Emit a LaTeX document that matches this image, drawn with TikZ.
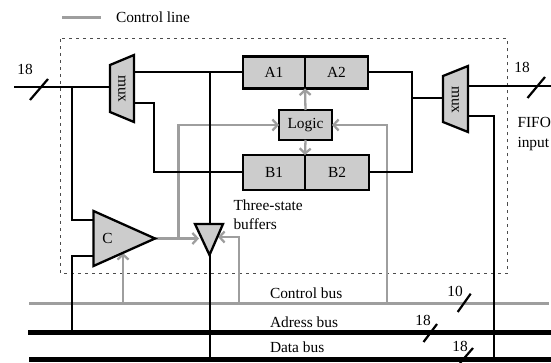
\documentclass[tikz,border=0pt]{standalone}
\usepackage{fontspec}
\setmainfont{Liberation Serif}
\usetikzlibrary{arrows.meta}
\definecolor{ctrlgray}{gray}{0.62}
\definecolor{boxgray}{gray}{0.8}
\tikzset{
	sig/.style={line width=2pt, black},
	ctrl/.style={line width=2.3pt, ctrlgray},
	ctrlarrow/.style={ctrl, -{Straight Barb[length=5pt,width=11pt,line width=2.3pt]}},
	bus/.style={line width=5pt, black},
	slash/.style={line width=2.2pt, black},
	part/.style={draw, line width=2.3pt, fill=boxgray, inner sep=0pt, outer sep=0pt, font=\fontsize{15.4}{18}\selectfont},
	shape2/.style={draw, line width=2.3pt, fill=boxgray, line join=miter},
	lbl/.style={inner sep=0pt, outer sep=0pt, font=\fontsize{15.4}{18}\selectfont},
}
\begin{document}
\begin{tikzpicture}[x=1pt, y=-1pt]
	\useasboundingbox (0, 0) rectangle (551, 363);
	%%%%% legend %%%%%
	\coordinate (legA) at (62, 17.5);
	\coordinate (legB) at (101, 17.5);
	\draw[ctrl] (legA) -- (legB);
	\node[lbl, anchor=west] (legtext) at (116, 17) {Control line};

	%%%%% frame %%%%%
	\draw[line width=1pt, black!70, dash pattern=on 3pt off 4pt] (60.5, 39) rectangle (507, 273.5);

	%%%%% blocks %%%%%
	\node[part, minimum width=62pt, minimum height=32pt] (A1) at (274, 72.5) {A1};
	\node[part, minimum width=63pt, minimum height=32pt] (A2) at (336.5, 72.5) {A2};
	\node[part, minimum width=62pt, minimum height=35pt] (B1) at (274, 172.5) {B1};
	\node[part, minimum width=64pt, minimum height=35pt] (B2) at (337, 172.5) {B2};
	\node[part, minimum width=53pt, minimum height=30pt] (logic) at (305.5, 125) {Logic};

	%%%%% fixed points %%%%%
	\coordinate (inL) at (14, 87.5);
	\coordinate (brL) at (72, 87.5);
	\coordinate (muxLin) at (110, 87.5);
	\coordinate (muxLout) at (134, 72.5);
	\coordinate (muxLlow) at (134, 103);
	\coordinate (bendL) at (153.5, 103);
	\coordinate (bendLb) at (153.5, 172.5);
	\coordinate (cUp) at (72, 220);
	\coordinate (cUpIn) at (93.5, 220);
	\coordinate (cLow) at (72, 256);
	\coordinate (cLowIn) at (93.5, 256);
	\coordinate (cOut) at (155, 238.5);
	\coordinate (busAtC) at (72, 332);
	\coordinate (dataTop) at (209.5, 72.5);
	\coordinate (dataBot) at (209.5, 359);
	\coordinate (bufTip) at (209.5, 255);
	\coordinate (bendAr) at (411.5, 72.5);
	\coordinate (bendBr) at (411.5, 172.5);
	\coordinate (muxRstub) at (411.5, 98);
	\coordinate (muxRin) at (443, 98);
	\coordinate (muxRout) at (468, 86);
	\coordinate (outR) at (551, 86);
	\coordinate (muxRlow) at (468, 116.5);
	\coordinate (bendR) at (493.5, 116.5);
	\coordinate (bendRb) at (493.5, 359);

	%%%%% control lines %%%%%
	\draw[ctrl] (29, 303.5) coordinate (ctrlL) -- (549, 303.5) coordinate (ctrlR);
	\coordinate (ctrlUpC) at (123, 303.5);
	\coordinate (ctrlUpBuf) at (238.7, 303.5);
	\coordinate (ctrlUpLogic) at (387, 303.5);
	\coordinate (cTap) at (178.5, 238.5);
	\draw[ctrlarrow] (cOut) -- (199, 238.5) coordinate (bufL);
	\draw[ctrlarrow] (cTap) |- (logic.west);
	\draw[ctrlarrow] (ctrlUpLogic) |- (logic.east);
	\draw[ctrlarrow] (ctrlUpC) -- (123, 253) coordinate (cCtl);
	\draw[ctrlarrow] (ctrlUpBuf) |- (218, 237) coordinate (bufR);
	\draw[ctrlarrow] (logic.north) -- (A1.south east);
	\draw[ctrlarrow] (logic.south) -- (B1.north east);

	%%%%% signal lines %%%%%
	\draw[sig] (inL) -- (muxLin);
	\draw[sig] (brL) |- (cUpIn);
	\draw[sig] (busAtC) |- (cLowIn);
	\draw[sig] (muxLout) -- (A1.west);
	\draw[sig] (muxLlow) -- (bendL) -- (bendLb) -- (B1.west);
	\draw[sig] (dataTop) -- (dataBot);
	\draw[sig] (A2.east) -- (bendAr) -- (bendBr) -- (B2.east);
	\draw[sig] (muxRstub) -- (muxRin);
	\draw[sig] (muxRout) -- (outR);
	\draw[sig] (muxRlow) -- (bendR) -- (bendRb);

	%%%%% muxes, comparator, buffer %%%%%
	\draw[shape2] (110, 65) -- (134, 55) -- (134, 122) -- (110, 112) -- cycle;
	\node[lbl, rotate=-90] (muxL) at (122, 89) {mux};
	\draw[shape2] (443, 76) -- (468, 66) -- (468, 132) -- (443, 122) -- cycle;
	\node[lbl, rotate=-90] (muxR) at (455.5, 100) {mux};
	\draw[shape2] (93.5, 211) -- (155, 238.5) -- (93.5, 266) -- cycle;
	\node[lbl] (cmp) at (107.5, 238) {C};
	\draw[shape2] (195, 224) -- (223, 224) -- (bufTip) -- cycle;

	%%%%% buses %%%%%
	\draw[bus] (28, 332) coordinate (adrL) -- (551, 332) coordinate (adrR);
	\draw[bus] (29, 359) coordinate (datL) -- (551, 359) coordinate (datR);
	\node[lbl, anchor=west] (ctrlbus) at (270, 293) {Control bus};
	\node[lbl, anchor=west] (adrbus) at (270, 322) {Adress bus};
	\node[lbl, anchor=west] (datbus) at (270, 347) {Data bus};

	%%%%% widths %%%%%
	\draw[slash] (30, 100) -- (48, 79);
	\node[lbl] (w1) at (25, 69) {18};
	\draw[slash] (527.5, 98) -- (545, 77);
	\node[lbl] (w2) at (522, 67) {18};
	\draw[slash] (457.7, 312) -- (470.7, 293.7);
	\node[lbl] (w3) at (455, 291) {10};
	\draw[slash] (423.5, 342) -- (437, 324);
	\node[lbl] (w4) at (423, 320) {18};
	\draw[slash] (460, 363) -- (473, 348);
	\node[lbl] (w5) at (460, 346) {18};

	%%%%% side texts %%%%%
	\node[lbl, anchor=west] (thr1) at (233.5, 205) {Three-state};
	\node[lbl, anchor=west] (thr2) at (233.5, 224) {buffers};
	\node[lbl, anchor=west] (fifo1) at (517.5, 122) {FIFO};
	\node[lbl, anchor=west] (fifo2) at (517.5, 144) {input};
\end{tikzpicture}
\end{document}
